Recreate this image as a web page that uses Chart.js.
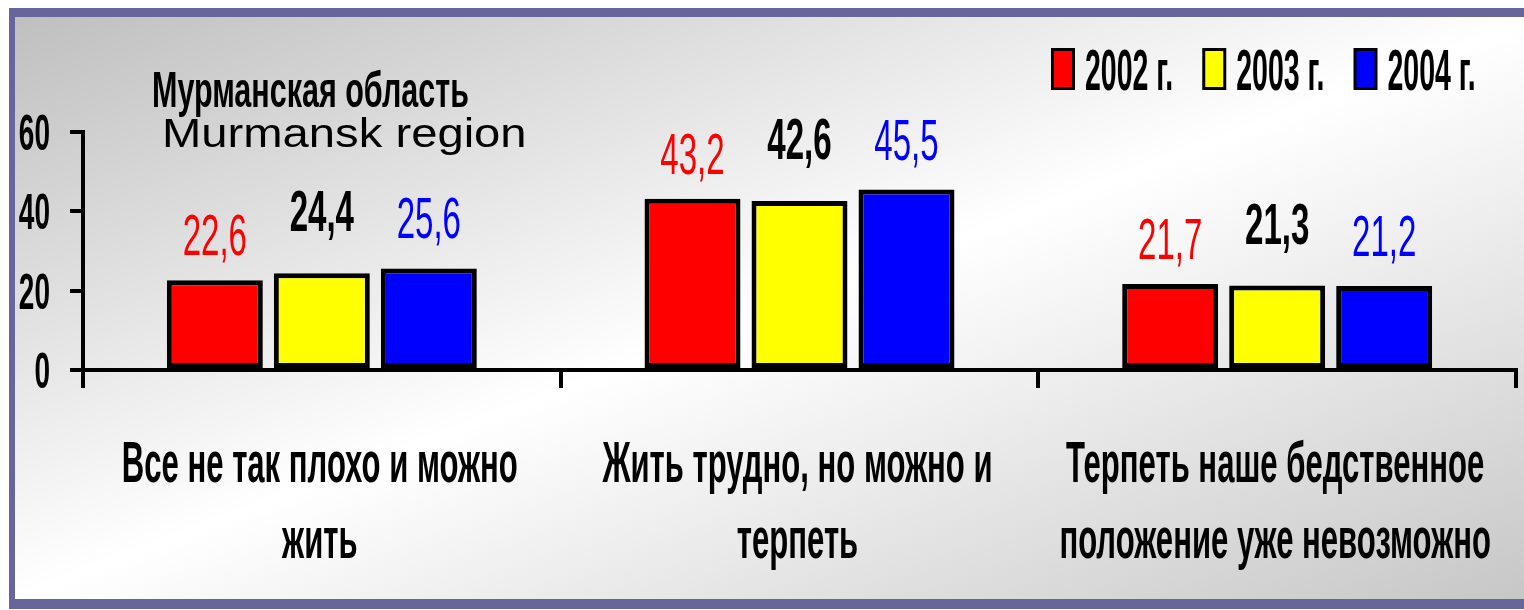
<!DOCTYPE html>
<html>
<head>
<meta charset="utf-8">
<script src="https://cdn.jsdelivr.net/npm/chart.js@4.4.1/dist/chart.umd.min.js"></script>
<style>
    body { margin: 0; width: 1524px; height: 610px; overflow: hidden; background: #fff; position: relative; }
    #frame {
        position: absolute; left: 9px; top: 8px; width: 1530px; height: 582px;
        border-top: 9px solid #66669a; border-left: 6px solid #66669a; border-bottom: 10px solid #66669a;
        background: linear-gradient(to bottom right, #bfbfbf 0%, #ffffff 50%, #c6c6c6 100%);
    }
    #chart { position: absolute; left: 0; top: 0; }
</style>
</head>
<body>
<div id="frame"></div>
<canvas id="chart" width="1524" height="610"></canvas>
<script>
// ===== Data =====
const categories = [
    ['Все не так плохо и можно', 'жить'],
    ['Жить трудно, но можно и', 'терпеть'],
    ['Терпеть наше бедственное', 'положение уже невозможно']
];
const seriesNames = ['2002 г.', '2003 г.', '2004 г.'];
const values2002 = [22.6, 43.2, 21.7];
const values2003 = [24.4, 42.6, 21.3];
const values2004 = [25.6, 45.5, 21.2];
const yMin = 0, yMax = 60, yStep = 20;

const titleRu = 'Мурманская область';
const titleEn = 'Murmansk region';

// ===== Styles =====
const barColors = ['#ff0000', '#ffff00', '#0000ff'];
const labelColors = ['#ff0000', '#000000', '#0000ff'];
const labelWeights = ['normal', 'bold', 'normal'];
const labelOffsets = [25, 42, 30];
const FONT = '"Liberation Sans", Arial, sans-serif';

// draw text squeezed horizontally (narrow look of the original)
function drawText(ctx, text, x, y, size, weight, sx, color, align) {
    ctx.save();
    ctx.font = `${weight} ${size}px ${FONT}`;
    ctx.fillStyle = color;
    ctx.textBaseline = 'alphabetic';
    ctx.textAlign = 'left';
    const w = ctx.measureText(text).width * sx;
    let left = x;
    if (align === 'center') left = x - w / 2;
    else if (align === 'right') left = x - w;
    ctx.translate(left, y);
    ctx.scale(sx, 1);
    ctx.fillText(text, 0, 0);
    ctx.restore();
    return w;
}

const textPlugin = {
    id: 'textPlugin',
    afterDraw(chart) {
        const ctx = chart.ctx;
        const xScale = chart.scales.x;
        const yScale = chart.scales.y;

        // y tick labels
        yScale.ticks.forEach(t => {
            const y = yScale.getPixelForValue(t.value);
            drawText(ctx, String(t.value), 50, y + 18, 50, 'bold', 0.56, '#000', 'right');
        });

        // category labels
        categories.forEach((lines, i) => {
            const x = xScale.getPixelForValue(i);
            lines.forEach((line, j) => {
                drawText(ctx, line, x - 2, 482 + j * 76, 57, 'bold', 0.545, '#000', 'center');
            });
        });

        // value labels
        chart.data.datasets.forEach((ds, di) => {
            const meta = chart.getDatasetMeta(di);
            meta.data.forEach((bar, i) => {
                const txt = ds.data[i].toFixed(1).replace('.', ',');
                drawText(ctx, txt, bar.x, bar.y - labelOffsets[di], 57, labelWeights[di], 0.58, labelColors[di], 'center');
            });
        });

        // legend
        let lx = 1051;
        chart.data.datasets.forEach((ds, di) => {
            ctx.fillStyle = '#000';
            ctx.fillRect(lx, 48, 24, 42);
            ctx.fillStyle = ds.backgroundColor;
            ctx.fillRect(lx + 3, 51, 18, 36);
            const w = drawText(ctx, ds.label, lx + 34, 90, 57, 'bold', 0.5, '#000', 'left');
            lx += 34 + w + 29;
        });

        // titles
        drawText(ctx, titleRu, 152, 107, 50, 'bold', 0.61, '#000', 'left');
        drawText(ctx, titleEn, 162, 147, 40, 'normal', 1.18, '#000', 'left');
    }
};

new Chart(document.getElementById('chart'), {
    type: 'bar',
    data: {
        labels: categories,
        datasets: [values2002, values2003, values2004].map((vals, i) => ({
            label: seriesNames[i],
            data: vals,
            backgroundColor: barColors[i],
            borderColor: '#000',
            borderWidth: 5,
            borderSkipped: false,
            categoryPercentage: 0.672,
            barPercentage: 0.897
        }))
    },
    options: {
        responsive: false,
        animation: false,
        events: [],
        layout: { padding: { top: 132, right: 8, left: 0, bottom: 0 } },
        plugins: { legend: { display: false }, tooltip: { enabled: false } },
        scales: {
            x: {
                ticks: { display: false },
                grid: { offset: true, drawOnChartArea: false, color: '#000', lineWidth: 4, tickLength: 18 },
                border: { color: '#000', width: 4 },
                afterFit(scale) { scale.height = 240; }
            },
            y: {
                min: yMin, max: yMax,
                ticks: { display: false, stepSize: yStep },
                grid: { drawOnChartArea: false, color: '#000', lineWidth: 4, tickLength: 13 },
                border: { color: '#000', width: 4 },
                afterFit(scale) { scale.width = 83; }
            }
        }
    },
    plugins: [textPlugin]
});
</script>
</body>
</html>
